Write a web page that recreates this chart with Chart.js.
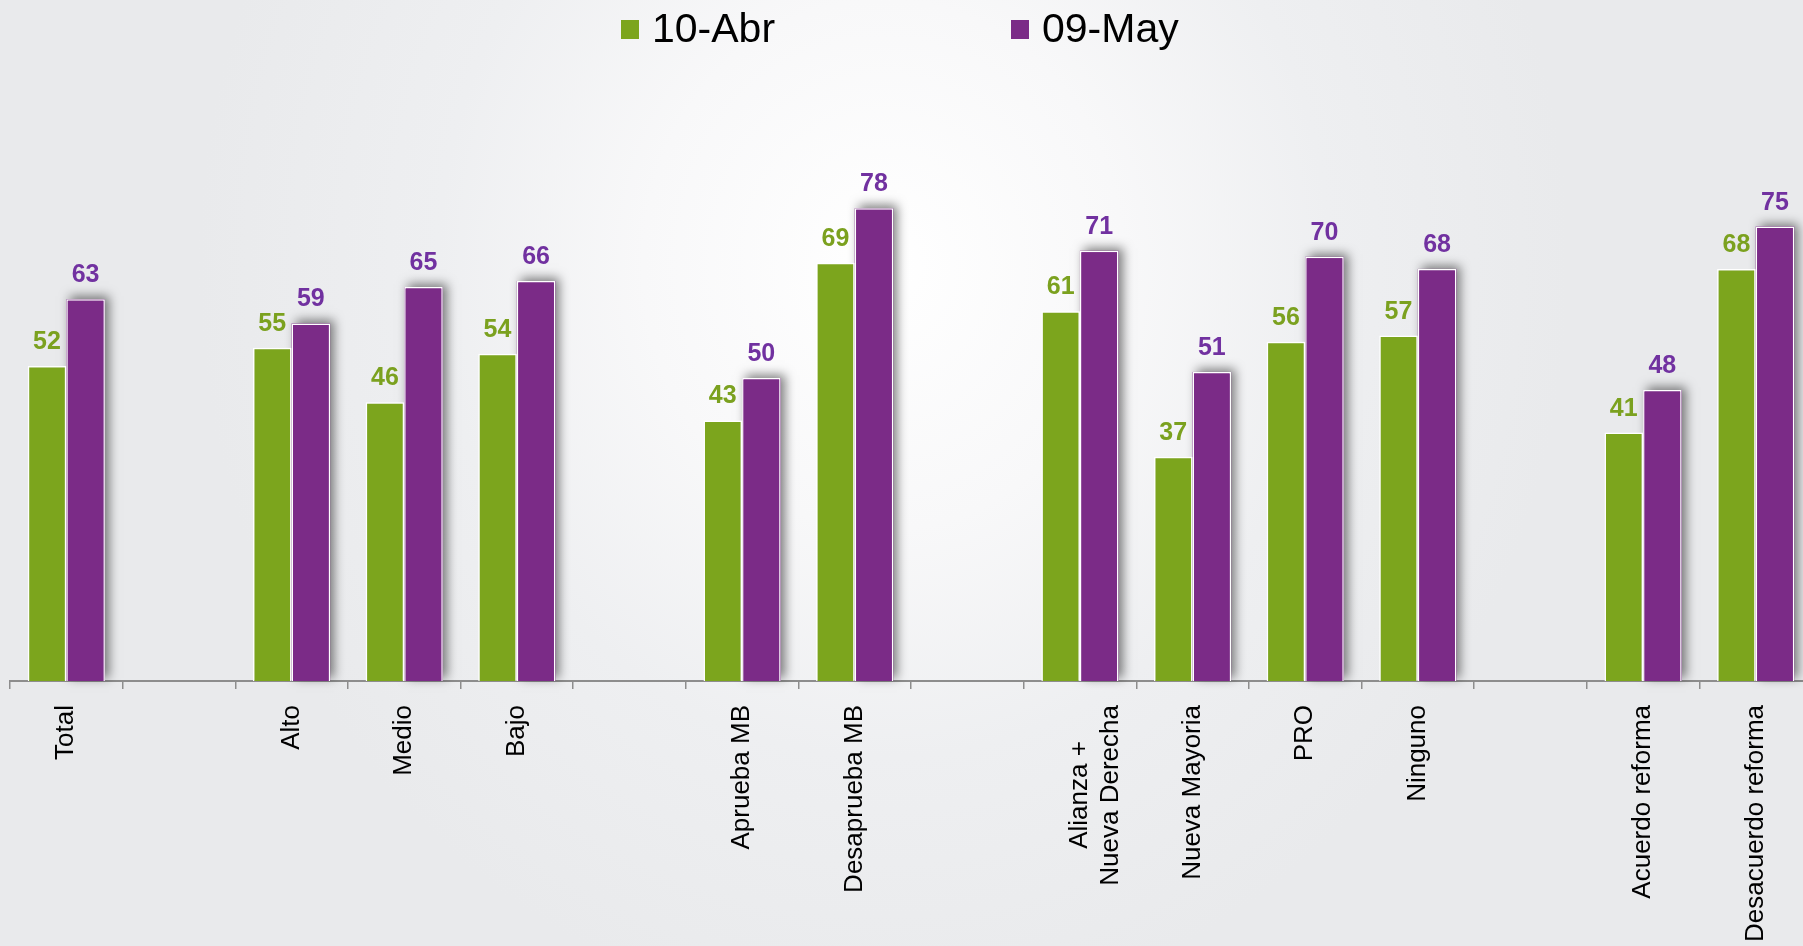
<!DOCTYPE html>
<html>
<head>
<meta charset="utf-8">
<title>10-Abr vs 09-May</title>
<script src="https://cdn.jsdelivr.net/npm/chart.js@4.4.1/dist/chart.umd.min.js"></script>
<style>
  html, body {
    margin: 0;
    padding: 0;
    width: 1803px;
    height: 946px;
    overflow: hidden;
    background: radial-gradient(ellipse 38% 80% at 49% 28%, #ffffff 0%, #f8f8f9 35%, #eeeff1 65%, #e9eaec 100%);
  }
  #chart {
    display: block;
  }
</style>
</head>
<body>
<canvas id="chart" width="1812" height="958"></canvas>
<script>
// categories (empty strings are the gaps between groups)
const categories = [
  'Total', '',
  'Alto', 'Medio', 'Bajo', '',
  'Aprueba MB', 'Desaprueba MB', '',
  ['Alianza +\u00A0\u00A0\u00A0\u00A0\u00A0', 'Nueva Derecha'], 'Nueva Mayoria', 'PRO', 'Ninguno', '',
  'Acuerdo reforma', 'Desacuerdo reforma'
];

const abril = [52, null, 55, 46, 54, null, 43, 69, null, 61, 37, 56, 57, null, 41, 68];
const mayo  = [63, null, 59, 65, 66, null, 50, 78, null, 71, 51, 70, 68, null, 48, 75];

const seriesNames = ['10-Abr', '09-May'];
const barColors = ['#7ca51d', '#7b2b87'];
const labelColors = ['#7ba11f', '#7131a0'];

const fontFamily = '"Liberation Sans", Arial, sans-serif';

// soft shadow behind the purple bars (drawn before the bars themselves)
const barShadow = {
  id: 'barShadow',
  beforeDatasetsDraw(chart) {
    const ctx = chart.ctx;
    const meta = chart.getDatasetMeta(1);
    ctx.save();
    ctx.shadowColor = 'rgba(0, 0, 0, 0.5)';
    ctx.shadowBlur = 10;
    ctx.shadowOffsetX = 4;
    ctx.shadowOffsetY = -3;
    ctx.fillStyle = barColors[1];
    meta.data.forEach((bar, j) => {
      if (mayo[j] === null) return;
      const p = bar.getProps(['x', 'y', 'base', 'width'], true);
      ctx.fillRect(p.x - p.width / 2, p.y, p.width, p.base - p.y);
    });
    ctx.restore();
  }
};

// numbers above the bars
const valueLabels = {
  id: 'valueLabels',
  afterDatasetsDraw(chart) {
    const ctx = chart.ctx;
    ctx.save();
    ctx.font = 'bold 25px ' + fontFamily;
    ctx.textAlign = 'center';
    ctx.textBaseline = 'alphabetic';
    chart.data.datasets.forEach((ds, i) => {
      const meta = chart.getDatasetMeta(i);
      ctx.fillStyle = labelColors[i];
      meta.data.forEach((bar, j) => {
        const v = ds.data[j];
        if (v === null) return;
        ctx.fillText(String(v), bar.x, bar.y - 17);
      });
    });
    ctx.restore();
  }
};

// legend at the top, drawn by hand to get the wide spacing
const topLegend = {
  id: 'topLegend',
  afterDraw(chart) {
    const ctx = chart.ctx;
    const cx = 901;
    const items = [cx - 280, cx + 110];
    ctx.save();
    ctx.font = '41px ' + fontFamily;
    ctx.textBaseline = 'middle';
    ctx.textAlign = 'left';
    items.forEach((x, i) => {
      ctx.fillStyle = barColors[i];
      ctx.fillRect(x, 20, 18, 19);
      ctx.fillStyle = '#000';
      ctx.fillText(seriesNames[i], x + 31, 31);
    });
    ctx.restore();
  }
};

const ctx = document.getElementById('chart').getContext('2d');
new Chart(ctx, {
  type: 'bar',
  data: {
    labels: categories,
    datasets: [
      {
        label: seriesNames[0],
        data: abril,
        backgroundColor: barColors[0],
        borderColor: '#ffffff',
        borderWidth: 1.5,
        barPercentage: 1,
        categoryPercentage: 0.685
      },
      {
        label: seriesNames[1],
        data: mayo,
        backgroundColor: barColors[1],
        borderColor: '#ffffff',
        borderWidth: 1.5,
        barPercentage: 1,
        categoryPercentage: 0.685
      }
    ]
  },
  options: {
    responsive: false,
    animation: false,
    layout: {
      padding: { top: 75, left: 10, right: 0, bottom: 0 }
    },
    plugins: {
      legend: { display: false },
      tooltip: { enabled: false }
    },
    scales: {
      x: {
        grid: {
          display: true,
          drawOnChartArea: false,
          drawTicks: true,
          tickLength: 8,
          color: '#8d8d8d',
          lineWidth: 1.5
        },
        border: { display: true, color: '#8d8d8d', width: 2 },
        ticks: {
          autoSkip: false,
          minRotation: 90,
          maxRotation: 90,
          padding: 16,
          color: '#000',
          font: { family: fontFamily, size: 26 }
        }
      },
      y: {
        display: false,
        min: 0,
        max: 100
      }
    }
  },
  plugins: [barShadow, valueLabels, topLegend]
});
</script>
</body>
</html>
